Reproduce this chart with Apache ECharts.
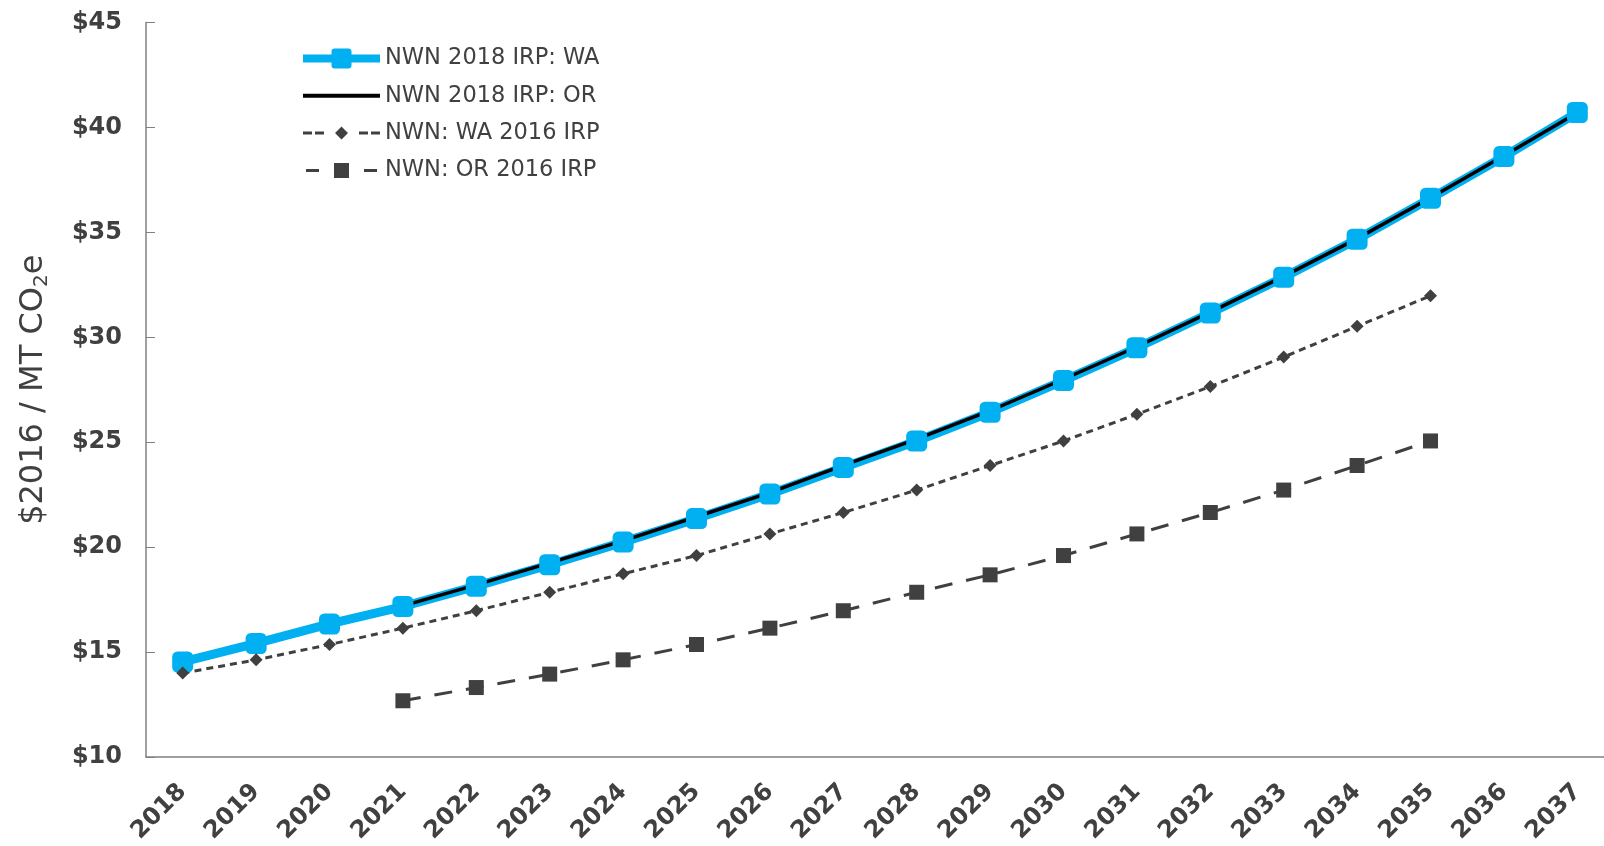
<!DOCTYPE html>
<html>
<head>
<meta charset="utf-8">
<script src="https://cdn.jsdelivr.net/npm/echarts@6/dist/echarts.min.js"></script>
<style>
  html, body { margin: 0; padding: 0; background: #fff; }
  #carbon-price { width: 1604px; height: 846px; }
</style>
</head>
<body>
<div id="carbon-price"></div>
<script>
// years on the x axis
const years = ["2018", "2019", "2020", "2021", "2022", "2023", "2024", "2025", "2026", "2027",
  "2028", "2029", "2030", "2031", "2032", "2033", "2034", "2035", "2036", "2037"];

// $2016 / MT CO2e
const wa2018 = [14.53, 15.41, 16.34, 17.17, 18.14, 19.16, 20.24, 21.36, 22.53, 23.80,
  25.06, 26.43, 27.94, 29.50, 31.16, 32.86, 34.67, 36.62, 38.61, 40.71];
const or2018 = ["-", "-", "-", 17.20, 18.20, 19.25, 20.30, 21.45, 22.60, 23.90,
  25.15, 26.50, 28.00, 29.55, 31.20, 32.90, 34.70, 36.65, 38.65, 40.70];
const wa2016 = [14.00, 14.63, 15.36, 16.14, 16.97, 17.85, 18.73, 19.60, 20.63, 21.65,
  22.72, 23.89, 25.06, 26.33, 27.65, 29.06, 30.52, 31.98, "-", "-"];
const or2016 = ["-", "-", "-", 12.68, 13.31, 13.95, 14.63, 15.36, 16.14, 16.97,
  17.85, 18.68, 19.60, 20.63, 21.65, 22.72, 23.89, 25.06, "-", "-"];

const seriesNames = ["NWN 2018 IRP: WA", "NWN 2018 IRP: OR", "NWN: WA 2016 IRP", "NWN: OR 2016 IRP"];

// legend keys drawn like the excel ones (line + marker), 77px wide
const keyWA2018 = "path://M0,6L28.5,6L28.5,3Q28.5,0 31.5,0L45.5,0Q48.5,0 48.5,3L48.5,6L77,6L77,14L48.5,14L48.5,17Q48.5,20 45.5,20L31.5,20Q28.5,20 28.5,17L28.5,14L0,14Z";
const keyOR2018 = "path://M0,8L77,8L77,12L0,12Z";
const keyWA2016 = "path://M0,8.5L9,8.5L9,11.5L0,11.5Z M12,8.5L21,8.5L21,11.5L12,11.5Z M32,10L38.5,3.5L45,10L38.5,16.5Z M56,8.5L65,8.5L65,11.5L56,11.5Z M68,8.5L77,8.5L77,11.5L68,11.5Z";
const keyOR2016 = "path://M3,8.5L16,8.5L16,11.5L3,11.5Z M31,2.5L46,2.5L46,17.5L31,17.5Z M61,8.5L74,8.5L74,11.5L61,11.5Z M0,0L0.01,0L0.01,0.01Z M76.99,19.99L77,19.99L77,20Z";

const chart = echarts.init(document.getElementById("carbon-price"));

const option = {
  animation: false,
  textStyle: { fontFamily: "DejaVu Sans", color: "#404040" },
  grid: {
    left: 146,
    top: 22.5,
    right: -10,
    bottom: 89,
    outerBoundsMode: "none"
  },
  legend: {
    orient: "vertical",
    left: 298,
    top: 42,
    itemWidth: 77,
    itemHeight: 20,
    itemGap: 14.3,
    data: [
      { name: seriesNames[0], icon: keyWA2018, symbolKeepAspect: true },
      { name: seriesNames[1], icon: keyOR2018, symbolKeepAspect: true },
      { name: seriesNames[2], icon: keyWA2016, symbolKeepAspect: true },
      { name: seriesNames[3], icon: keyOR2016, symbolKeepAspect: true }
    ],
    textStyle: { fontSize: 22.5, color: "#404040", fontFamily: "DejaVu Sans" }
  },
  xAxis: {
    type: "category",
    data: years,
    boundaryGap: true,
    axisLine: { lineStyle: { color: "#808080", width: 1.5 } },
    axisTick: { alignWithLabel: true, inside: true, length: 8, lineStyle: { color: "#808080" } },
    axisLabel: {
      rotate: 45,
      margin: 31,
      fontSize: 24,
      fontWeight: "bold",
      color: "#404040",
      interval: 0
    }
  },
  yAxis: {
    type: "value",
    min: 10,
    max: 45,
    interval: 5,
    name: "$2016 / MT CO{sub|2}e",
    nameLocation: "middle",
    nameRotate: 90,
    nameGap: 94,
    nameTextStyle: {
      fontSize: 32,
      color: "#404040",
      rich: {
        sub: { fontSize: 20, color: "#404040", padding: [16, 0, 0, 0] }
      }
    },
    axisLine: { show: true, lineStyle: { color: "#808080", width: 1.5 } },
    axisTick: { show: true, inside: true, length: 9, lineStyle: { color: "#808080" } },
    splitLine: { show: false },
    axisLabel: {
      margin: 24,
      fontSize: 24,
      fontWeight: "bold",
      color: "#404040",
      formatter: "${value}"
    }
  },
  series: [
    {
      name: seriesNames[0],
      type: "line",
      data: wa2018,
      symbol: "roundRect",
      symbolSize: 21,
      lineStyle: { color: "#00B0F0", width: 9 },
      itemStyle: { color: "#00B0F0" }
    },
    {
      name: seriesNames[1],
      type: "line",
      data: or2018,
      symbol: "none",
      lineStyle: { color: "#000000", width: 3.5 },
      itemStyle: { color: "#000000" }
    },
    {
      name: seriesNames[2],
      type: "line",
      data: wa2016,
      symbol: "diamond",
      symbolSize: 13,
      lineStyle: { color: "#404040", width: 3, type: [7, 5] },
      itemStyle: { color: "#404040" }
    },
    {
      name: seriesNames[3],
      type: "line",
      data: or2016,
      symbol: "rect",
      symbolSize: 15,
      lineStyle: { color: "#404040", width: 3, type: [18, 14] },
      itemStyle: { color: "#404040" }
    }
  ]
};

chart.setOption(option);
</script>
</body>
</html>
